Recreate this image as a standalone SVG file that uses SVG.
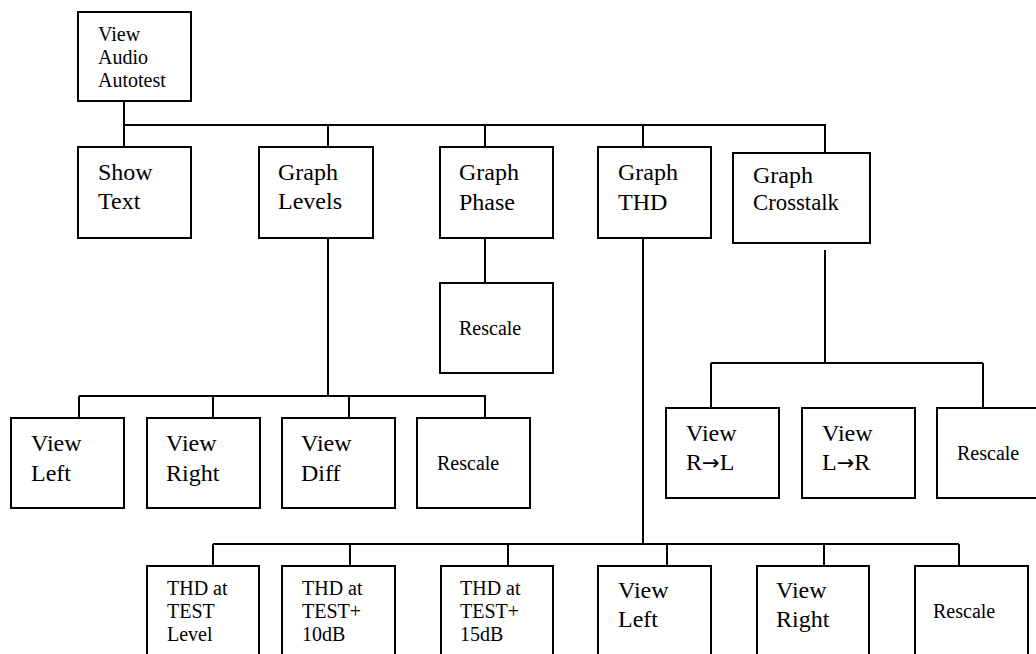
<svg xmlns="http://www.w3.org/2000/svg" width="1036" height="654" viewBox="0 0 1036 654">
<style>
.box{fill:#fff;stroke:#000;stroke-width:2}
.ln{fill:none;stroke:#000;stroke-width:2}
text{font-family:"Liberation Serif","Times New Roman",serif;fill:#000}
.L{font-size:24px}
.S{font-size:20px}
.ar{font-family:"DejaVu Sans",sans-serif;font-size:21px}
</style>
<rect width="1036" height="654" fill="#fff"/>
<g id="connectors" class="ln">
<path d="M124 101V147M124 125H825V153M328 125V147M485 125V147M643 125V147"/>
<path d="M485 238V283"/>
<path d="M328 238V396M79 396H486M79 396V418M213 396V418M349 396V418M485 396V418"/>
<path d="M825 250V363M711 363H983M711 363V408M983 363V408"/>
<path d="M643 227V544M213 544H959M213 544V566M350 544V566M508 544V566M667 544V566M824 544V566M959 544V566"/>
</g>
<g id="n-root"><rect class="box" x="78" y="12" width="113" height="89"/><text class="S" x="98" y="41">View</text><text class="S" x="98" y="64">Audio</text><text class="S" x="98" y="87">Autotest</text></g>
<g id="n-showtext"><rect class="box" x="78" y="147" width="113" height="91"/><text class="L" x="98" y="180">Show</text><text class="L" x="98" y="209">Text</text></g>
<g id="n-levels"><rect class="box" x="259" y="147" width="114" height="91"/><text class="L" x="278" y="180">Graph</text><text class="L" x="278" y="209">Levels</text></g>
<g id="n-phase"><rect class="box" x="440" y="147" width="113" height="91"/><text class="L" x="459" y="180">Graph</text><text class="L" x="459" y="210">Phase</text></g>
<g id="n-thd"><rect class="box" x="598" y="147" width="113" height="91"/><text class="L" x="618" y="180">Graph</text><text class="L" x="618" y="210">THD</text></g>
<g id="n-crosstalk"><rect class="box" x="733" y="153" width="137" height="90"/><text class="L" x="753" y="183">Graph</text><text class="L" x="753" y="210" textLength="86" lengthAdjust="spacingAndGlyphs">Crosstalk</text></g>
<g id="n-phase-rescale"><rect class="box" x="440" y="283" width="113" height="90"/><text class="S" x="459" y="335">Rescale</text></g>
<g id="n-lv-left"><rect class="box" x="11" y="418" width="113" height="90"/><text class="L" x="31" y="451">View</text><text class="L" x="31" y="481">Left</text></g>
<g id="n-lv-right"><rect class="box" x="147" y="418" width="113" height="90"/><text class="L" x="166" y="451">View</text><text class="L" x="166" y="481">Right</text></g>
<g id="n-lv-diff"><rect class="box" x="282" y="418" width="113" height="90"/><text class="L" x="301" y="451">View</text><text class="L" x="301" y="481">Diff</text></g>
<g id="n-lv-rescale"><rect class="box" x="417" y="418" width="113" height="90"/><text class="S" x="437" y="470">Rescale</text></g>
<g id="n-ct-rl"><rect class="box" x="666" y="408" width="113" height="90"/><text class="L" x="686" y="441">View</text><text class="L" x="686" y="470">R<tspan class="ar">→</tspan>L</text></g>
<g id="n-ct-lr"><rect class="box" x="802" y="408" width="113" height="90"/><text class="L" x="822" y="441">View</text><text class="L" x="822" y="470">L<tspan class="ar">→</tspan>R</text></g>
<g id="n-ct-rescale"><rect class="box" x="937" y="408" width="113" height="90"/><text class="S" x="957" y="460">Rescale</text></g>
<g id="n-thd-level"><rect class="box" x="147" y="566" width="112" height="100"/><text class="S" x="167" y="595">THD at</text><text class="S" x="167" y="618">TEST</text><text class="S" x="167" y="641">Level</text></g>
<g id="n-thd-10"><rect class="box" x="282" y="566" width="113" height="100"/><text class="S" x="302" y="595">THD at</text><text class="S" x="302" y="618">TEST+</text><text class="S" x="302" y="641">10dB</text></g>
<g id="n-thd-15"><rect class="box" x="441" y="566" width="112" height="100"/><text class="S" x="460" y="595">THD at</text><text class="S" x="460" y="618">TEST+</text><text class="S" x="460" y="641">15dB</text></g>
<g id="n-thd-left"><rect class="box" x="598" y="566" width="113" height="100"/><text class="L" x="618" y="598">View</text><text class="L" x="618" y="627">Left</text></g>
<g id="n-thd-right"><rect class="box" x="757" y="566" width="112" height="100"/><text class="L" x="776" y="598">View</text><text class="L" x="776" y="627">Right</text></g>
<g id="n-thd-rescale"><rect class="box" x="915" y="566" width="113" height="100"/><text class="S" x="933" y="618">Rescale</text></g>
</svg>
